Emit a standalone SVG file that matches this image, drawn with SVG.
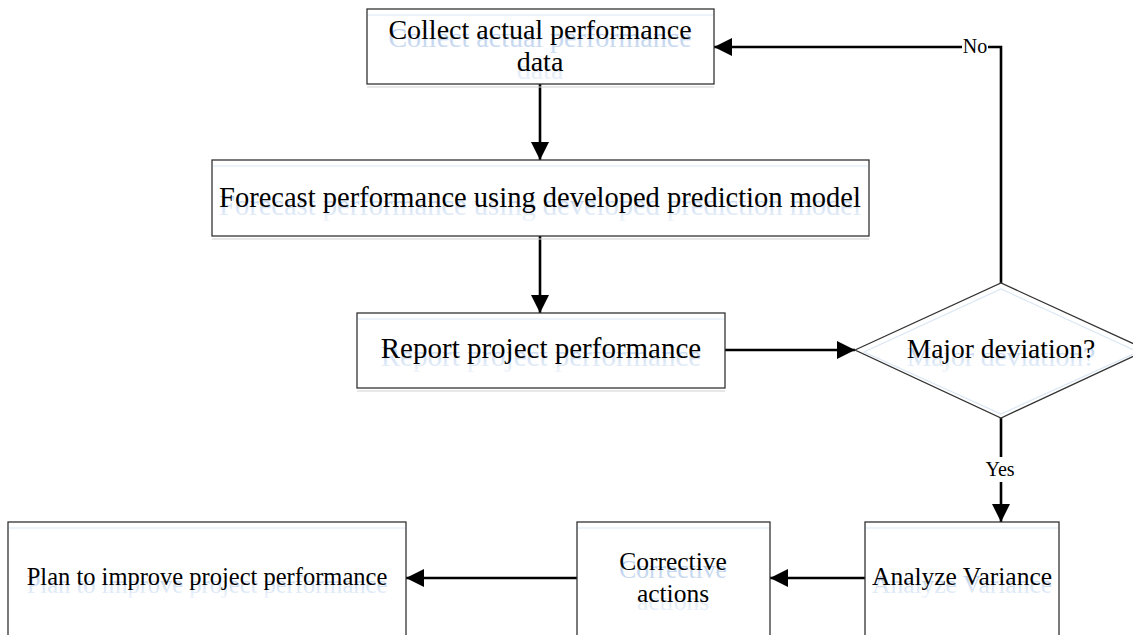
<svg xmlns="http://www.w3.org/2000/svg" xmlns:xlink="http://www.w3.org/1999/xlink" width="1133" height="635" viewBox="0 0 1133 635">
  <style>
    .box { fill: #ffffff; stroke: #333333; stroke-width: 1.3; }
    .glow { fill: none; stroke: #dbe7f5; stroke-width: 1.2; }
    .lip { fill: none; stroke: #d0d0d0; stroke-width: 1; }
    .node { fill: #000000; }
    .lbl { font-family: "Liberation Serif", "Times New Roman", serif; text-anchor: middle; }
    .refl { fill: url(#fade); }
    .edge { fill: none; stroke: #000000; stroke-width: 2.6; }
    .tag { font-family: "Liberation Serif", "Times New Roman", serif; font-size: 20px; text-anchor: middle; fill: #000000; }
  </style>
  <defs>
    <linearGradient id="fade" x1="0" y1="0" x2="0" y2="1">
      <stop offset="0" stop-color="#b3cbea"/>
      <stop offset="1" stop-color="#eef4fb"/>
    </linearGradient>
    <marker id="head" markerUnits="userSpaceOnUse" markerWidth="20" markerHeight="20" refX="18" refY="9" orient="auto">
      <path d="M0,0 L18,9 L0,18 z" fill="#000000"/>
    </marker>
  </defs>

  <rect width="1133" height="635" fill="#ffffff"/>

  <!-- connectors -->
  <g id="connectors">
    <path class="edge" d="M540,84 V160" marker-end="url(#head)"/>
    <path class="edge" d="M540,236 V313" marker-end="url(#head)"/>
    <path class="edge" d="M725,350 H855" marker-end="url(#head)"/>
    <path class="edge" d="M1001,283 V47 H714" marker-end="url(#head)"/>
    <rect x="962" y="36" width="26" height="22" fill="#ffffff"/>
    <text class="tag" x="975" y="53">No</text>
    <path class="edge" d="M1001,418 V522" marker-end="url(#head)"/>
    <rect x="984" y="457" width="34" height="25" fill="#ffffff"/>
    <text class="tag" x="1000" y="476">Yes</text>
    <path class="edge" d="M865,578 H770" marker-end="url(#head)"/>
    <path class="edge" d="M577,578 H406" marker-end="url(#head)"/>
  </g>

  <!-- process steps -->
  <g id="collect" class="node">
    <rect class="box" x="367" y="9" width="347" height="75"/>
    <line class="glow" x1="368" y1="15" x2="713" y2="15"/>
    <line class="lip" x1="367" y1="87" x2="714" y2="87"/>
    <use xlink:href="#collect-text" class="refl" transform="translate(0,8)"/>
    <text id="collect-text" class="lbl" font-size="28"><tspan x="540" y="39">Collect actual performance</tspan><tspan x="540" y="71">data</tspan></text>
  </g>

  <g id="forecast" class="node">
    <rect class="box" x="212" y="160" width="657" height="76"/>
    <line class="glow" x1="213" y1="166" x2="868" y2="166"/>
    <line class="lip" x1="212" y1="239" x2="869" y2="239"/>
    <use xlink:href="#forecast-text" class="refl" transform="translate(0,8)"/>
    <text id="forecast-text" class="lbl" font-size="28.5" x="540" y="207">Forecast performance using developed prediction model</text>
  </g>

  <g id="report" class="node">
    <rect class="box" x="357" y="313" width="368" height="75"/>
    <line class="glow" x1="358" y1="319" x2="724" y2="319"/>
    <line class="lip" x1="357" y1="391" x2="725" y2="391"/>
    <use xlink:href="#report-text" class="refl" transform="translate(0,8)"/>
    <text id="report-text" class="lbl" font-size="29" x="541" y="358">Report project performance</text>
  </g>

  <g id="deviation" class="node">
    <polygon class="box" points="855,350 1001,283 1147,350 1001,418"/>
    <polygon class="glow" points="864,352 1001,289 1138,352 1001,414"/>
    <use xlink:href="#deviation-text" class="refl" transform="translate(0,8)"/>
    <text id="deviation-text" class="lbl" font-size="27.5" x="1001" y="358">Major deviation?</text>
  </g>

  <g id="analyze" class="node">
    <rect class="box" x="865" y="522" width="194" height="120"/>
    <line class="glow" x1="866" y1="528" x2="1058" y2="528"/>
    <use xlink:href="#analyze-text" class="refl" transform="translate(0,8)"/>
    <text id="analyze-text" class="lbl" font-size="25.5" x="962" y="585">Analyze Variance</text>
  </g>

  <g id="corrective" class="node">
    <rect class="box" x="577" y="522" width="193" height="120"/>
    <line class="glow" x1="578" y1="528" x2="769" y2="528"/>
    <use xlink:href="#corrective-text" class="refl" transform="translate(0,8)"/>
    <text id="corrective-text" class="lbl" font-size="25.5"><tspan x="673" y="570">Corrective</tspan><tspan x="673" y="602">actions</tspan></text>
  </g>

  <g id="plan" class="node">
    <rect class="box" x="8" y="522" width="398" height="120"/>
    <line class="glow" x1="9" y1="528" x2="405" y2="528"/>
    <use xlink:href="#plan-text" class="refl" transform="translate(0,8)"/>
    <text id="plan-text" class="lbl" font-size="24.5" x="207" y="585">Plan to improve project performance</text>
  </g>
</svg>
